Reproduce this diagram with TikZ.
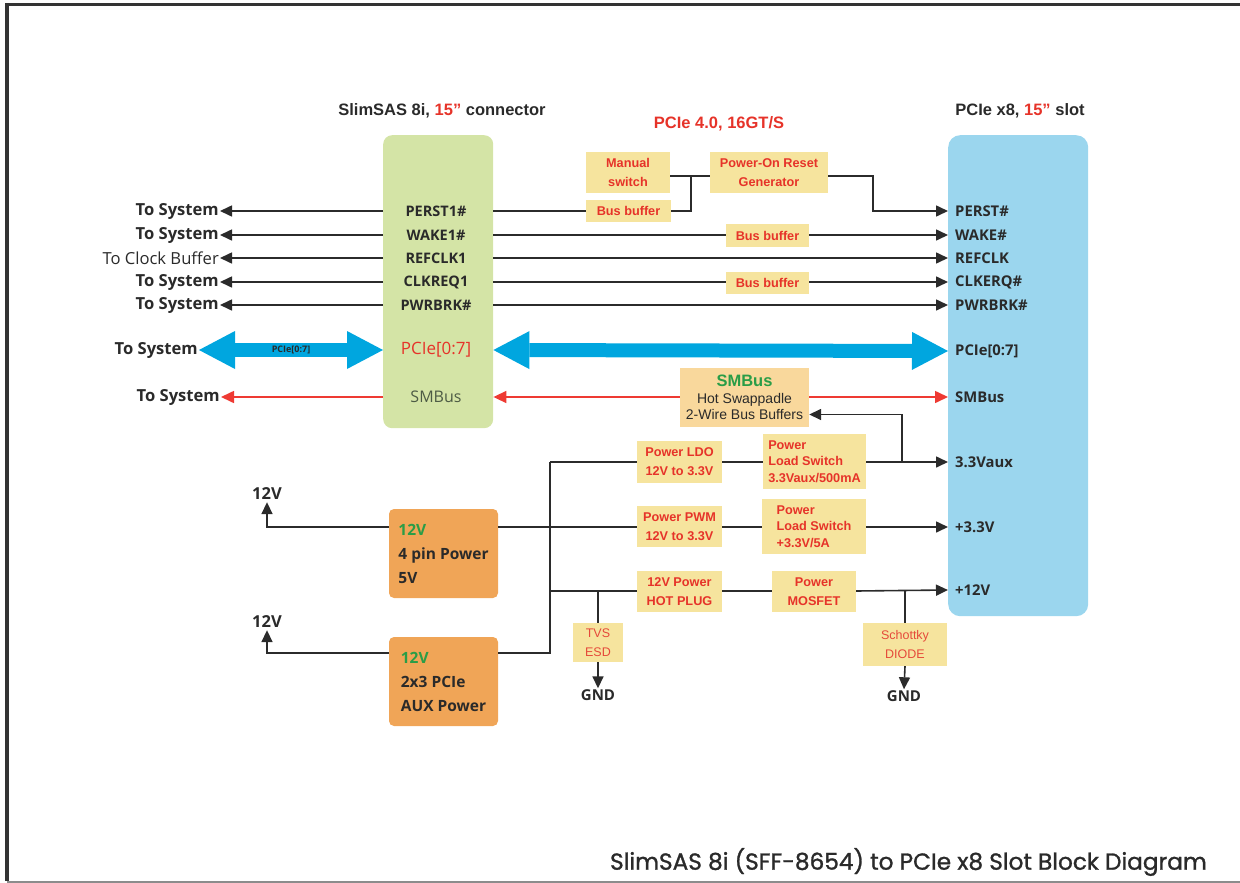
\documentclass[tikz,border=0pt]{standalone}
\usepackage{fontspec}
\setmainfont{Liberation Sans}
\newfontfamily\os{Open Sans}
\newfontfamily\pop[FakeBold=1.2]{Poppins}
\usetikzlibrary{arrows.meta}
\definecolor{gbox}{HTML}{D4E4A6}
\definecolor{bbox}{HTML}{9BD6EE}
\definecolor{barrow}{HTML}{00A6DF}
\definecolor{ybox}{HTML}{F6E49E}
\definecolor{sbox}{HTML}{F9D89C}
\definecolor{obox}{HTML}{F0A557}
\definecolor{rtxt}{HTML}{E63329}
\definecolor{rtxtl}{HTML}{E5493A}
\definecolor{gtxt}{HTML}{2A9D47}
\definecolor{dtxt}{HTML}{2A2A2A}
\definecolor{wirec}{HTML}{2B2B2B}
\definecolor{smred}{HTML}{EE3A33}
\definecolor{smtxt}{HTML}{4D5B45}
\newcommand\fsz[2]{\fontsize{#1}{#2}\selectfont}
\begin{document}
\begin{tikzpicture}[x=1pt,y=-1pt,
 wire/.style={line width=1.6pt, draw=wirec},
 sig/.style={wire, -{Triangle[length=12pt,width=11pt]}},
 rsig/.style={line width=1.6pt, draw=smred, -{Triangle[length=13pt,width=12pt]}},
 bus/.style={line width=14pt, draw=barrow, {Triangle[length=36pt,width=38pt,line width=0pt]}-{Triangle[length=36pt,width=38pt,line width=0pt]}},
 ylw/.style={fill=ybox, inner sep=0pt, align=center, text=rtxt, font=\fsz{12.7}{19}\bfseries},
 lpin/.style={text=dtxt, font=\os\fsz{14.5}{17}\bfseries, inner sep=0pt},
 rpin/.style={text=dtxt, font=\os\fsz{14.8}{17}\bfseries, anchor=west, inner sep=0pt},
 sysl/.style={text=dtxt, font=\os\fsz{16.6}{19}\bfseries, anchor=east, inner sep=1pt},
 hdr/.style={text=dtxt, font=\fsz{16.5}{20}\bfseries, inner sep=0pt},
 obx/.style={fill=obox, rounded corners=5pt, minimum width=109pt, minimum height=89pt, inner sep=0pt, align=left, font=\os\fsz{15.5}{24}\bfseries, text=dtxt},
 vlab/.style={font=\os\fsz{16.5}{18}\bfseries, text=dtxt, inner sep=2pt},
 gnd/.style={font=\os\fsz{15}{17}\bfseries, text=dtxt, inner sep=1pt}
]
\useasboundingbox (0,0) rectangle (1240,883);
% frame
\draw[line width=3.5pt, black!80] (1240,4.5) -- (7,4.5) -- (7,881);
\draw[line width=2pt, black!45] (7,881.5) -- (1240,881.5);

% main blocks
\node[fill=gbox, rounded corners=9pt, minimum width=110pt, minimum height=293pt, anchor=north west, inner sep=0pt] (slim) at (383,135) {};
\node[fill=bbox, rounded corners=12pt, minimum width=140pt, minimum height=481pt, anchor=north west, inner sep=0pt] (slot) at (948,135) {};

% headers
\node[hdr] (t1) at (442,111) {SlimSAS 8i, \textcolor{rtxt}{15”} connector};
\node[hdr] (t2) at (1020,111) {PCIe x8, \textcolor{rtxt}{15”} slot};
\node[hdr, text=rtxt] (t3) at (719,124) {PCIe 4.0, 16GT/S};

% SlimSAS pins
\node[lpin] (g1) at (436,211) {PERST1\#};
\node[lpin] (g2) at (436,235) {WAKE1\#};
\node[lpin] (g3) at (436,258) {REFCLK1};
\node[lpin] (g4) at (436,282) {CLKREQ1};
\node[lpin] (g5) at (436,305) {PWRBRK\#};
\node[lpin, font=\os\fsz{17}{20}, text=rtxt] (g6) at (436,350) {PCIe[0:7]};
\node[lpin, font=\os\fsz{16}{19}, text=smtxt] (g7) at (436,397) {SMBus};

% slot pins
\node[rpin] (s1) at (955,211) {PERST\#};
\node[rpin] (s2) at (955,235) {WAKE\#};
\node[rpin] (s3) at (955,258) {REFCLK};
\node[rpin] (s4) at (955,282) {CLKERQ\#};
\node[rpin] (s5) at (955,305) {PWRBRK\#};
\node[rpin] (s6) at (955,351) {PCIe[0:7]};
\node[rpin] (s7) at (955,397) {SMBus};
\node[rpin] (s8) at (955,462) {3.3Vaux};
\node[rpin] (s9) at (955,527) {+3.3V};
\node[rpin] (s10) at (955,590) {+12V};

% left labels
\node[sysl] (l1) at (220,211) {To System};
\node[sysl] (l2) at (220,235) {To System};
\node[sysl, font=\os\fsz{16.6}{19}] (l3) at (220,258) {To Clock Buffer};
\node[sysl] (l4) at (220,282) {To System};
\node[sysl] (l5) at (220,305) {To System};
\node[sysl] (l6) at (199,350) {To System};
\node[sysl] (l7) at (221,397) {To System};

\draw[sig] (slim.west |- g1) -- (l1.east);
\draw[sig] (slim.west |- g2) -- (l2.east);
\draw[sig] (slim.west |- g3) -- (l3.east);
\draw[sig] (slim.west |- g4) -- (l4.east);
\draw[sig] (slim.west |- g5) -- (l5.east);
\draw[rsig] (slim.west |- g7) -- (l7.east);

% PCIe buses
\draw[bus] (l6.east) -- (slim.west |- g6);
\node[font=\os\fsz{9}{10}\bfseries, text=dtxt, inner sep=0pt] (bl) at (291,350) {PCIe[0:7]};
\draw[bus] (slim.east |- g6) -- (slot.west |- s6);

% PERST network
\node[ylw, minimum width=84pt, minimum height=41pt] (man) at (628,172.5) {Manual\\switch};
\node[ylw, minimum width=85pt, minimum height=22pt] (bbP) at (628.5,211) {Bus buffer};
\node[ylw, minimum width=118pt, minimum height=41pt] (por) at (769,172.5) {Power-On Reset\\Generator};
\coordinate (jP) at (691,176);
\coordinate (jR) at (873,176);
\draw[wire] (slim.east |- g1) -- (bbP.west);
\draw[wire] (bbP.east) -| (jP);
\draw[wire] (man.east |- jP) -- (por.west |- jP);
\draw[sig] (por.east |- jR) -- (jR) |- (slot.west |- s1);

% other sideband
\node[ylw, minimum width=83pt, minimum height=23pt] (bbW) at (767.5,235.5) {Bus buffer};
\node[ylw, minimum width=83pt, minimum height=22pt] (bbC) at (767.5,283) {Bus buffer};
\draw[wire] (slim.east |- g2) -- (bbW.west |- g2);
\draw[sig] (bbW.east |- g2) -- (slot.west |- s2);
\draw[sig] (slim.east |- g3) -- (slot.west |- s3);
\draw[wire] (slim.east |- g4) -- (bbC.west |- g4);
\draw[sig] (bbC.east |- g4) -- (slot.west |- s4);
\draw[sig] (slim.east |- g5) -- (slot.west |- s5);

% SMBus
\node[fill=sbox, minimum width=129pt, minimum height=59pt, inner sep=0pt, align=center, font=\fsz{14}{16.5}, text=dtxt] (smb) at (744.5,397.5) {\textcolor{gtxt}{\fsz{16.5}{16.5}\bfseries SMBus}\\Hot Swappadle\\2-Wire Bus Buffers};
\draw[rsig] (smb.west |- g7) -- (slim.east |- g7);
\draw[rsig] (smb.east |- g7) -- (slot.west |- s7);

% power conversion blocks
\node[ylw, minimum width=85pt, minimum height=42pt] (ldo) at (679.5,462) {Power LDO\\12V to 3.3V};
\node[ylw, minimum width=103pt, minimum height=55pt, font=\fsz{12.7}{16.5}\bfseries, align=left] (lsA) at (814.5,461.5) {Power\\Load Switch\\3.3Vaux/500mA};
\node[ylw, minimum width=85pt, minimum height=41pt] (pwm) at (679.5,526.5) {Power PWM\\12V to 3.3V};
\node[ylw, minimum width=104pt, minimum height=55pt, font=\fsz{12.7}{16.5}\bfseries, align=left] (lsB) at (814,526.5) {Power\\Load Switch\\+3.3V/5A};
\node[ylw, minimum width=85pt, minimum height=41pt] (hp) at (679.5,591.5) {12V Power\\HOT PLUG};
\node[ylw, minimum width=84pt, minimum height=41pt] (mos) at (814,591.5) {Power\\MOSFET};
\node[ylw, minimum width=50pt, minimum height=39pt, font=\fsz{12.5}{19}, text=rtxtl] (tvs) at (598,642.5) {TVS\\ESD};
\node[ylw, minimum width=84pt, minimum height=43pt, font=\fsz{12.5}{19}, text=rtxtl] (sch) at (905,644.5) {Schottky\\DIODE};
\node[gnd] (gnd1) at (598,695) {GND};
\node[gnd] (gnd2) at (904,696) {GND};

% power sources
\node[obx] (pw4) at (443.5,553.5) {\textcolor{gtxt}{12V}\\4 pin Power\\5V};
\node[obx] (aux) at (443.5,681.5) {\textcolor{gtxt}{12V}\\2x3 PCIe\\AUX Power};
\node[vlab] (v1) at (267,494) {12V};
\node[vlab] (v2) at (267,622) {12V};

\coordinate (bt) at (550,462);
\coordinate (bb) at (550,653);
\coordinate (b12) at (550,591);
\coordinate (tap) at (902,462);

\draw[wire] (bt) -- (ldo.west |- bt);
\draw[wire] (ldo.east |- bt) -- (lsA.west |- bt);
\draw[sig] (lsA.east |- bt) -- (slot.west |- s8);
\draw[sig] (tap) |- ([yshift=-17pt]smb.east);
\draw[wire] (bt) -- (bb) -- (aux.east |- bb);
\draw[wire] (pw4.east |- s9) -- (pwm.west |- s9);
\draw[wire] (pwm.east |- s9) -- (lsB.west |- s9);
\draw[sig] (lsB.east |- s9) -- (slot.west |- s9);
\draw[wire] (b12) -- (hp.west |- b12);
\draw[wire] (hp.east |- b12) -- (mos.west |- b12);
\draw[sig] (mos.east |- b12) -- (slot.west |- s10);
\draw[wire] (tvs.north |- b12) -- (tvs.north);
\draw[sig] (tvs.south) -- (gnd1.north);
\draw[wire] (sch.north |- b12) -- (sch.north);
\draw[sig] (sch.south) -- (gnd2.north);
\draw[sig] (pw4.west |- s9) -| (v1.south);
\draw[sig] (aux.west |- bb) -| (v2.south);

% footer title
\node[font=\pop\fsz{23.2}{27}, text=dtxt, anchor=east, inner sep=0pt] (ttl) at (1207,862) {SlimSAS 8i (SFF-8654) to PCIe x8 Slot Block Diagram};
\end{tikzpicture}
\end{document}
